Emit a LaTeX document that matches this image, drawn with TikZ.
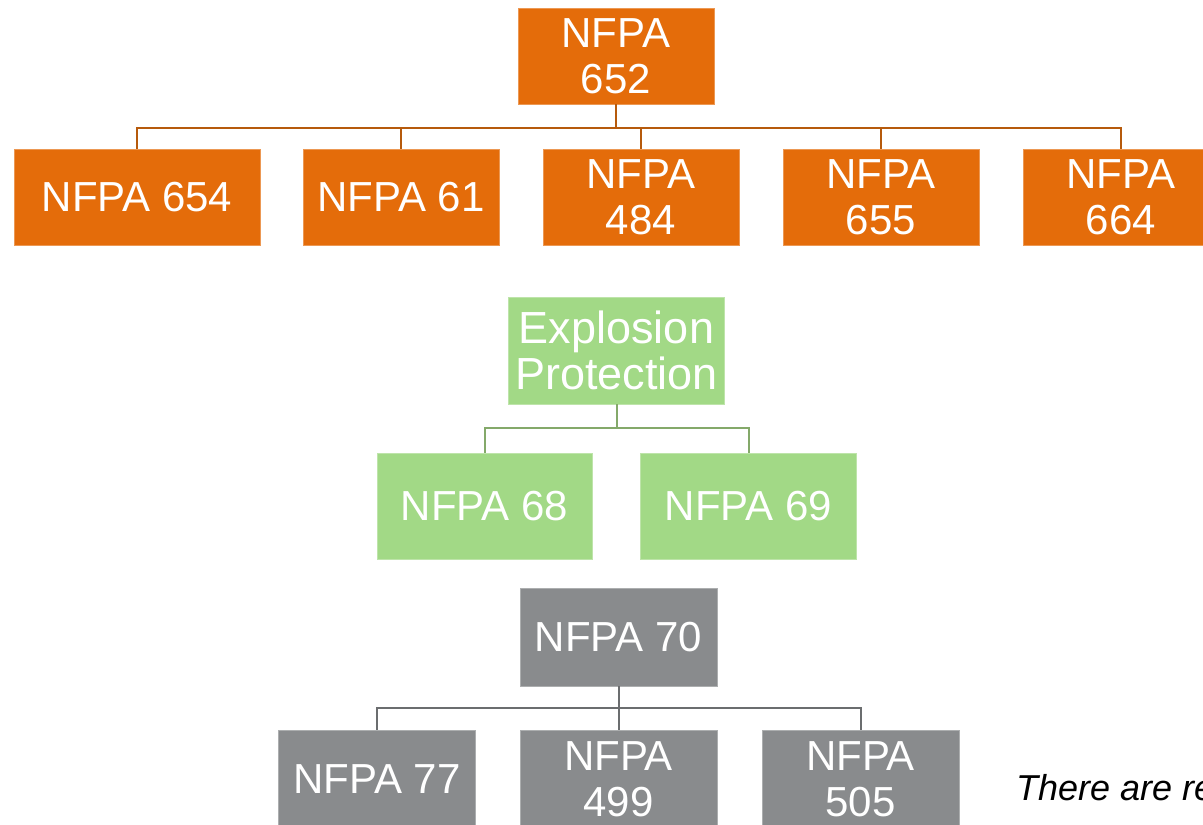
\documentclass[tikz,border=0pt]{standalone}
\usepackage{fontspec}
\setmainfont{Liberation Sans}
\definecolor{orng}{HTML}{E46C0A}
\definecolor{orngline}{HTML}{B65A0C}
\definecolor{grn}{HTML}{A2D986}
\definecolor{grnline}{HTML}{84A96A}
\definecolor{gry}{HTML}{898B8D}
\definecolor{gryline}{HTML}{6B6D6F}
\tikzset{
  box/.style={rectangle, inner sep=0pt, text=white, align=center,
    font=\fontsize{42}{46}\selectfont, line width=0.8pt},
  obox/.style={box, fill=orng, draw=orng!70!white},
  gbox/.style={box, fill=grn, draw=grn!70!white},
  ybox/.style={box, fill=gry, draw=gry!70!white},
  oline/.style={draw=orngline, line width=2pt},
  gline/.style={draw=grnline, line width=2pt},
  yline/.style={draw=gryline, line width=2pt},
}
\begin{document}
\begin{tikzpicture}[x=1pt, y=-1pt]
\useasboundingbox (0,0) rectangle (1203,825);
% orange tree
\node[obox, minimum width=196pt, minimum height=96pt] (n652) at (616,56) {NFPA\\652};
\node[obox, minimum width=246pt, minimum height=96pt] (n654) at (137,197.5) {NFPA 654};
\node[obox, minimum width=196pt, minimum height=96pt] (n61) at (401,197.5) {NFPA 61};
\node[obox, minimum width=196pt, minimum height=96pt] (n484) at (641,197.5) {NFPA\\484};
\node[obox, minimum width=196pt, minimum height=96pt] (n655) at (881,197.5) {NFPA\\655};
\node[obox, minimum width=196pt, minimum height=96pt] (n664) at (1121,197.5) {NFPA\\664};
\foreach \c in {n654,n61,n484,n655,n664}
  \draw[oline] (n652.south) -- ++(0,24) -| (\c.north);
% green tree
\node[gbox, minimum width=216pt, minimum height=107pt,
  font=\fontsize{45}{46}\selectfont] (exp) at (616.5,350.5) {Explosion\\Protection};
\node[gbox, minimum width=215pt, minimum height=106pt] (n68) at (484.5,506) {NFPA 68};
\node[gbox, minimum width=216pt, minimum height=106pt] (n69) at (748.5,506) {NFPA 69};
\foreach \c in {n68,n69}
  \draw[gline] (exp.south) -- ++(0,24) -| (\c.north);
% gray tree
\node[ybox, minimum width=197pt, minimum height=98pt] (n70) at (618.5,637) {NFPA 70};
\node[ybox, minimum width=197pt, minimum height=98pt] (n77) at (377,779) {NFPA 77};
\node[ybox, minimum width=197pt, minimum height=98pt] (n499) at (618.5,779) {NFPA\\499};
\node[ybox, minimum width=197pt, minimum height=98pt] (n505) at (860.5,779) {NFPA\\505};
\foreach \c in {n77,n499,n505}
  \draw[yline] (n70.south) -- ++(0,22) -| (\c.north);
% note
\node[anchor=base west, inner sep=0pt, font=\fontsize{36}{40}\selectfont\itshape] (note) at (1016,800) {There are re};
\end{tikzpicture}
\end{document}
